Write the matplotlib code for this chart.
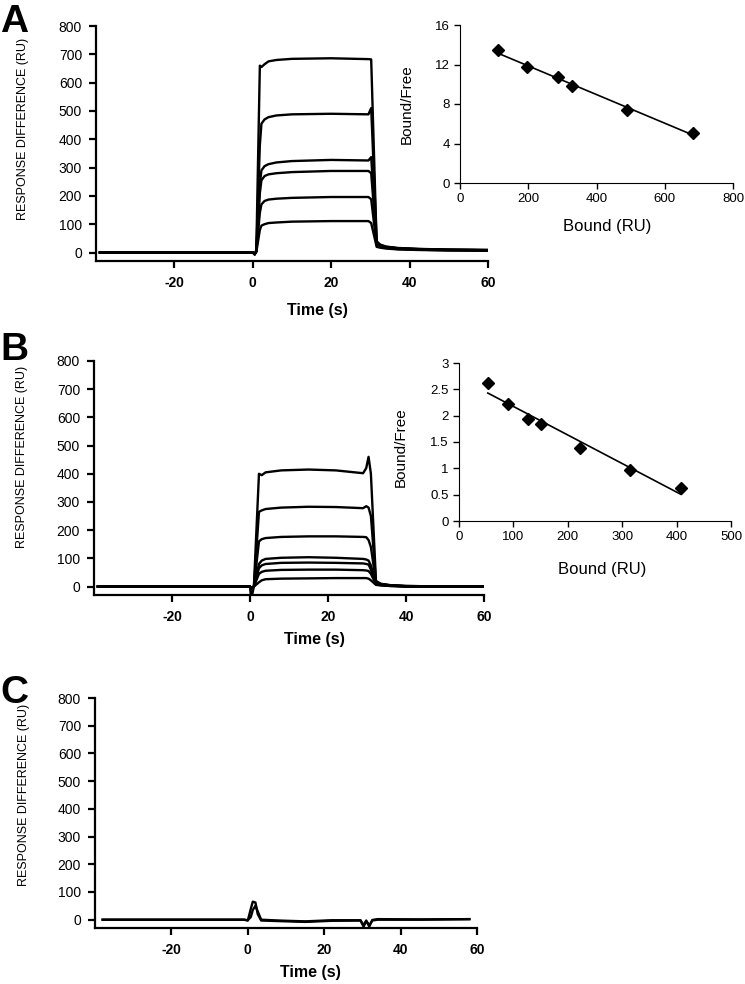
import matplotlib

matplotlib.use("Agg")
import matplotlib.pyplot as plt
import numpy as np

plt.rcParams["font.family"] = ["Liberation Sans", "DejaVu Sans"]
plt.rcParams["axes.unicode_minus"] = False

# ---- panel A: sensorgrams (time breakpoints shared by all curves) ----
A_TIME = [-39, 0, 0.5, 0.9, 1.8, 2.2, 3, 4, 6, 10, 20, 29.5, 30.2, 31.6, 32.5, 34, 37, 42, 50, 60]
A_CURVES = [
    [0, 0, -8, 10, 660, 655, 665, 675, 680, 684, 686, 683, 682, 30, 24, 19, 15, 12, 10, 9],
    [0, 0, -6, 5, 380, 455, 470, 478, 484, 488, 490, 488, 510, 40, 28, 21, 16, 13, 10, 9],
    [0, 0, -5, 5, 240, 290, 305, 312, 318, 323, 327, 325, 337, 35, 26, 20, 15, 12, 10, 8],
    [0, 0, -5, 5, 210, 255, 270, 276, 280, 284, 288, 288, 280, 30, 24, 18, 14, 11, 9, 8],
    [0, 0, -5, 3, 140, 170, 182, 187, 190, 193, 196, 196, 188, 25, 20, 16, 12, 10, 8, 7],
    [0, 0, -5, 2, 80, 95, 100, 104, 106, 109, 111, 111, 104, 20, 17, 14, 11, 9, 7, 6],
]

# ---- panel A inset: Scatchard plot ----
A_BOUND = [110, 195, 287, 327, 490, 683]
A_RATIO = [13.5, 11.7, 10.7, 9.8, 7.4, 5.1]

# ---- panel B: sensorgrams ----
B_TIME = [-39, 0, 0.3, 1.0, 2.3, 3, 4, 8, 15, 22, 29, 29.8, 30.4, 31.0, 32.3, 33.5, 36, 40, 50, 60]
B_CURVES = [
    [0, 0, -45, 0, 400, 395, 405, 412, 415, 412, 402, 420, 460, 400, 20, 10, 5, 2, 0, 0],
    [0, 0, -10, 0, 265, 270, 275, 280, 283, 282, 278, 285, 280, 250, 18, 9, 4, 2, 0, 0],
    [0, 0, -10, 0, 160, 168, 172, 176, 178, 178, 176, 175, 165, 140, 15, 8, 4, 1, 0, 0],
    [0, 0, -8, 0, 80, 92, 98, 102, 104, 102, 98, 96, 92, 75, 12, 7, 3, 1, 0, 0],
    [0, 0, -8, 0, 65, 75, 80, 84, 85, 84, 82, 80, 78, 60, 10, 6, 3, 1, 0, 0],
    [0, 0, -6, 0, 45, 52, 56, 59, 60, 60, 58, 57, 55, 45, 8, 5, 2, 1, 0, 0],
    [0, 0, -5, 0, 15, 22, 26, 28, 29, 30, 30, 30, 28, 22, 6, 4, 2, 0, 0, 0],
]

# ---- panel B inset: Scatchard plot ----
B_BOUND = [53, 90, 126, 150, 223, 315, 408]
B_RATIO = [2.62, 2.23, 1.94, 1.85, 1.38, 0.97, 0.63]

# ---- panel C: sensorgrams ----
C_TIME = [-38, -1, 0, 0.8, 1.3, 2.0, 2.6, 3.5, 8, 15, 22, 29.5, 30.3, 31.0, 31.8, 32.6, 34, 45, 58]
C_CURVES = [
    [0, 0, -3, 40, 65, 62, 20, -3, -5, -8, -4, -3, -25, -5, -20, -3, 0, 0, 2],
    [0, 0, -2, 10, 35, 50, 30, 0, -3, -6, -2, -2, -20, -3, -25, -1, 2, 1, 2],
]

W, H = 745, 984


def px_axes(fig, left, top, right, bottom):
    return fig.add_axes([left / W, 1 - bottom / H, (right - left) / W, (bottom - top) / H])


def style_main(ax, time, curves, label_y, ylab_y):
    for vals in curves:
        ax.plot(time, vals, color="black", lw=1.7)
    ax.set_xlim(-40, 60)
    ax.set_ylim(-30, 800)
    ax.set_xticks([-20, 0, 20, 40, 60])
    ax.set_yticks(range(0, 801, 100))
    for side in ("top", "right"):
        ax.spines[side].set_visible(False)
    for side in ("left", "bottom"):
        ax.spines[side].set_linewidth(1.6)
    ax.tick_params(axis="both", direction="out", length=5, width=1.6)
    ax.tick_params(axis="y", labelsize=10, pad=5)
    ax.tick_params(axis="x", labelsize=10, pad=6)
    for lab in ax.get_xticklabels():
        lab.set_fontweight("bold")
    ax.set_xlabel("Time (s)", fontsize=11.5, fontweight="bold")
    ax.xaxis.set_label_coords(0.565, label_y)
    ax.set_ylabel("RESPONSE DIFFERENCE (RU)", fontsize=9.0)
    ax.yaxis.set_label_coords(-0.17, ylab_y)


def style_inset(ax, bound, ratio, xmax, ymax, ystep, xstep, xl, yl, bl):
    ax.plot(bound, ratio, "D", color="black", ms=6.5)
    slope, icpt = np.polyfit(bound, ratio, 1)
    xs = np.array([bound[0], bound[-1]])
    ax.plot(xs, slope * xs + icpt, color="black", lw=1.2)
    ax.set_xlim(0, xmax)
    ax.set_ylim(0, ymax)
    ax.set_xticks(np.arange(0, xmax + 1, xstep))
    ax.set_yticks(np.arange(0, ymax + 0.001, ystep))
    ax.yaxis.set_major_formatter(matplotlib.ticker.FormatStrFormatter("%g"))
    for side in ("top", "right"):
        ax.spines[side].set_visible(False)
    ax.tick_params(axis="both", direction="out", length=4, width=1, labelsize=9.5)
    ax.set_xlabel("Bound (RU)", fontsize=12)
    ax.xaxis.set_label_coords(bl[0], bl[1])
    ax.set_ylabel("Bound/Free", fontsize=11)
    ax.yaxis.set_label_coords(xl, yl)


fig = plt.figure(figsize=(W / 100, H / 100), dpi=100)

axA = px_axes(fig, 96, 26, 488, 261)
style_main(axA, A_TIME, A_CURVES, -0.18, 0.56)
axAi = px_axes(fig, 460, 25, 733, 183)
style_inset(axAi, A_BOUND, A_RATIO, 800, 16, 4, 200, -0.17, 0.5, (0.54, -0.23))

axB = px_axes(fig, 94, 361, 484, 595)
style_main(axB, B_TIME, B_CURVES, -0.16, 0.59)
axBi = px_axes(fig, 459, 363, 731, 521)
style_inset(axBi, B_BOUND, B_RATIO, 500, 3, 0.5, 100, -0.19, 0.47, (0.525, -0.26))

axC = px_axes(fig, 95, 698, 477, 928)
style_main(axC, C_TIME, C_CURVES, -0.16, 0.58)

for letter, top in (("A", 4), ("B", 332), ("C", 675)):
    fig.text(0.0, 1 - top / H, letter, fontsize=28, fontweight="bold", va="top", ha="left")

fig.savefig("out.png", dpi=100)
plt.close(fig)
